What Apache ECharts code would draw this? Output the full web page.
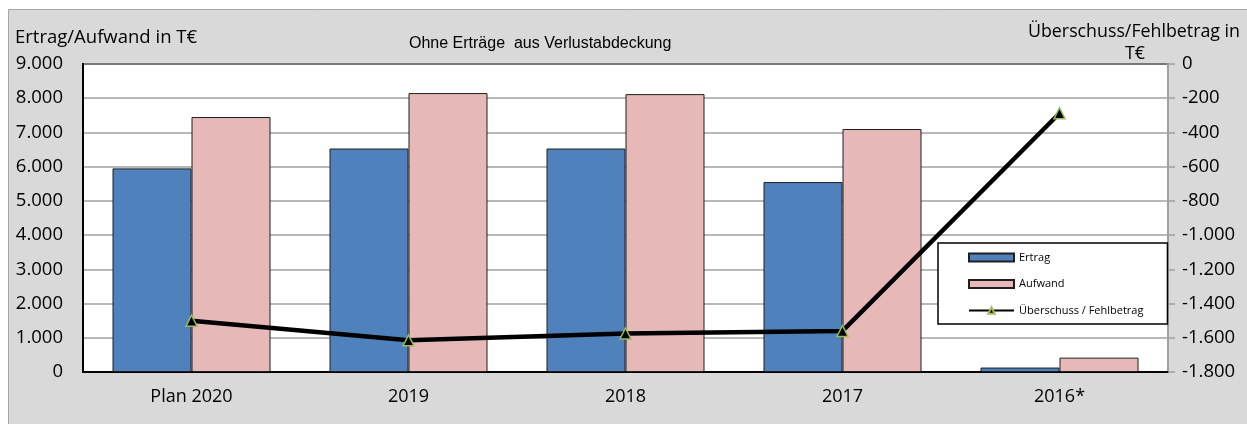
<!DOCTYPE html>
<html>
<head>
<meta charset="utf-8">
<script src="https://cdn.jsdelivr.net/npm/echarts@6/dist/echarts.min.js"></script>
<style>
  html, body { margin: 0; padding: 0; background: #fff; }
  #chart { width: 1247px; height: 424px; }
</style>
</head>
<body>
<div id="chart"></div>
<script>
var categories = ['Plan 2020', '2019', '2018', '2017', '2016*'];
var ertrag = [5950, 6530, 6530, 5550, 130];
var aufwand = [7450, 8150, 8120, 7100, 420];
var saldo = [-1500, -1615, -1575, -1560, -288];

var chart = echarts.init(document.getElementById('chart'));

function deNum(v) {
    var s = Math.abs(v).toString().replace(/\B(?=(\d{3})+(?!\d))/g, '.');
    return (v < 0 ? '-' : '') + s;
}

var font = '"Open Sans", "Noto Sans", sans-serif';

var option = {
    animation: false,
    textStyle: { fontFamily: font },
    graphic: [
        {
            type: 'rect', left: 8, top: 9, z: -10,
            shape: { width: 1260, height: 430 },
            style: { fill: '#d9d9d9', stroke: '#a6a6a6', lineWidth: 1 }
        },
        {
            type: 'text', x: 15, y: 38,
            style: { text: 'Ertrag/Aufwand in T€', fill: '#000', font: '18.5px ' + font, textVerticalAlign: 'middle' }
        },
        {
            type: 'text', x: 1134, y: 32,
            style: { text: 'Überschuss/Fehlbetrag in', fill: '#000', font: '17.8px ' + font, textAlign: 'center', textVerticalAlign: 'middle' }
        },
        {
            type: 'text', x: 1135, y: 54,
            style: { text: 'T€', fill: '#000', font: '17.8px ' + font, textAlign: 'center', textVerticalAlign: 'middle' }
        }
    ],
    title: {
        text: 'Ohne Erträge  aus Verlustabdeckung',
        left: 409, top: 36, padding: 0,
        textStyle: { fontFamily: '"Liberation Sans", Arial, sans-serif', fontSize: 16, fontWeight: 'normal', color: '#000' }
    },
    legend: {
        orient: 'vertical',
        left: 938, top: 243,
        backgroundColor: '#fff',
        borderColor: '#000', borderWidth: 1.5, borderRadius: 0,
        padding: [9, 24, 8, 30],
        itemWidth: 45, itemHeight: 8, itemGap: 15.5,
        textStyle: { fontSize: 11, color: '#000', fontFamily: font },
        data: [
            { name: 'Ertrag', icon: 'rect' },
            { name: 'Aufwand', icon: 'rect' },
            { name: 'Überschuss / Fehlbetrag' }
        ]
    },
    grid: {
        left: 83, right: 79, top: 64, bottom: 52,
        show: true, backgroundColor: '#fff', borderColor: '#000', borderWidth: 2
    },
    xAxis: {
        type: 'category',
        data: categories,
        axisLine: { lineStyle: { color: '#000', width: 2 } },
        axisTick: { show: false },
        axisLabel: { fontSize: 18, color: '#000', margin: 16 }
    },
    yAxis: [
        {
            type: 'value', min: 0, max: 9000, interval: 1000,
            axisLine: { show: true, lineStyle: { color: '#000', width: 2 } },
            axisTick: { show: false },
            splitLine: { lineStyle: { color: '#a0a0a0', width: 1.5 } },
            axisLabel: { fontSize: 18.5, color: '#000', margin: 20, formatter: deNum }
        },
        {
            type: 'value', min: -1800, max: 0, interval: 200,
            position: 'right',
            axisLine: { show: true, lineStyle: { color: '#a0a0a0', width: 2 } },
            axisTick: { show: true, length: 7, lineStyle: { color: '#a0a0a0', width: 1.5 } },
            splitLine: { show: false },
            axisLabel: { fontSize: 18.5, color: '#000', margin: 14, formatter: deNum }
        }
    ],
    series: [
        {
            name: 'Ertrag', type: 'bar', data: ertrag,
            barWidth: 79, barGap: '0%',
            itemStyle: { color: '#4f81bd', borderColor: '#1f1f1f', borderWidth: 1 }
        },
        {
            name: 'Aufwand', type: 'bar', data: aufwand,
            barWidth: 79,
            itemStyle: { color: '#e6b9b8', borderColor: '#1f1f1f', borderWidth: 1 }
        },
        {
            name: 'Überschuss / Fehlbetrag', type: 'line', yAxisIndex: 1, data: saldo,
            symbol: 'triangle', symbolSize: 11,
            lineStyle: { color: '#000', width: 4.5 },
            itemStyle: { color: '#000', borderColor: '#9bbb59', borderWidth: 1.5 },
            z: 5
        }
    ]
};

chart.setOption(option);
window.onresize = function () { chart.resize(); };
</script>
</body>
</html>
